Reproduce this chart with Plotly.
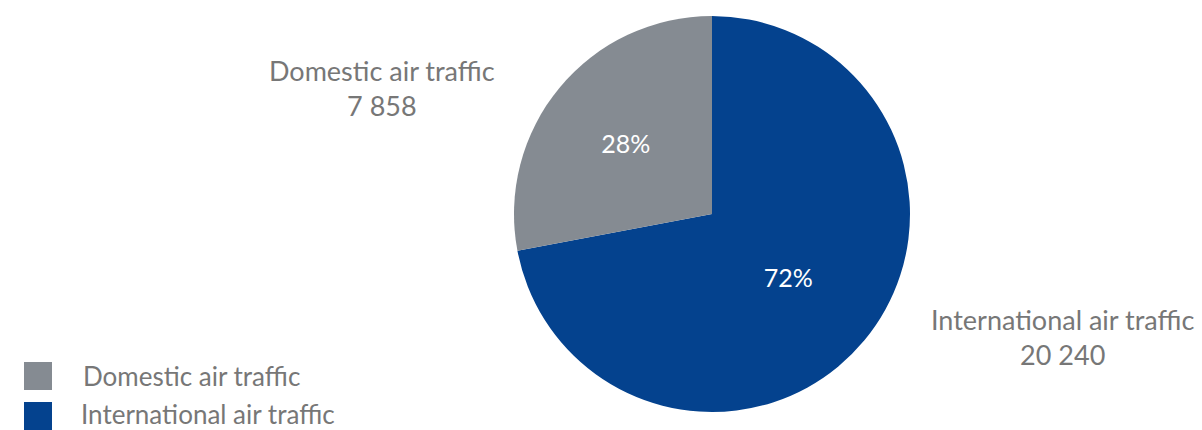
import plotly.graph_objects as go

# Air traffic split
categories = ["Domestic air traffic", "International air traffic"]
values = [7858, 20240]
colors = ["#858B92", "#04428E"]

W, H = 1202, 430
FONT = "Lato"
TEXT_GRAY = "#777777"

fig = go.Figure()

# International runs clockwise from 12 o'clock, domestic fills the rest
fig.add_trace(go.Pie(
    labels=categories[::-1],
    values=values[::-1],
    sort=False,
    direction="clockwise",
    rotation=0,
    marker=dict(colors=colors[::-1], line=dict(width=0)),
    texttemplate="%{percent:.0%}",
    textposition="inside",
    insidetextorientation="horizontal",
    insidetextfont=dict(family=FONT, size=25, color="white"),
    domain=dict(x=[514 / W, 910 / W], y=[1 - 412 / H, 1 - 16 / H]),
    showlegend=False,
    hoverinfo="label+value+percent",
))

def fmt(v):
    return f"{v:,}".replace(",", " ")

# Outside callout labels (name + value)
label_pos = [(382 / W, 1 - 88 / H), (1062 / W, 1 - 337 / H)]
for name, val, (lx, ly) in zip(categories, values, label_pos):
    fig.add_annotation(
        x=lx, y=ly, xref="paper", yref="paper",
        text=f"{name}<br>{fmt(val)}",
        showarrow=False, xanchor="center", yanchor="middle",
        align="center",
        font=dict(family=FONT, size=27, color=TEXT_GRAY),
    )

# Legend: square swatches with names
for i, (name, col) in enumerate(zip(categories, colors)):
    cy = 376 + 40 * i
    fig.add_shape(
        type="rect", xref="paper", yref="paper",
        x0=24 / W, x1=52 / W, y0=1 - (cy + 14) / H, y1=1 - (cy - 14) / H,
        fillcolor=col, line=dict(width=0),
    )
    fig.add_annotation(
        x=(82 - 2 * i) / W, y=1 - (cy - 2 * i) / H, xref="paper", yref="paper",
        text=name, showarrow=False, xanchor="left", yanchor="middle",
        borderpad=0,
        font=dict(family=FONT, size=26, color=TEXT_GRAY),
    )

fig.update_layout(
    width=W, height=H,
    margin=dict(l=0, r=0, t=0, b=0),
    paper_bgcolor="white",
    plot_bgcolor="white",
    font=dict(family=FONT),
)

fig.write_html("out.html")
